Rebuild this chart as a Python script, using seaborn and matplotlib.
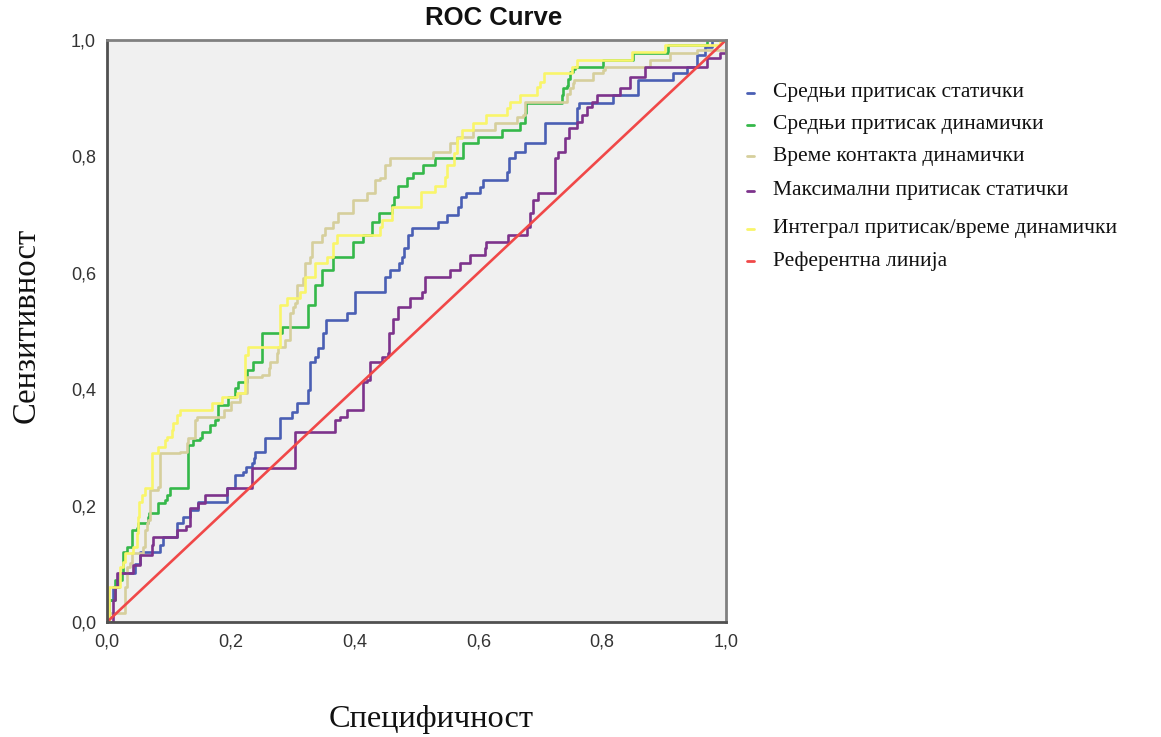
import matplotlib
matplotlib.use("Agg")
import matplotlib.pyplot as plt
from matplotlib.lines import Line2D
import seaborn as sns
import pandas as pd

# ROC coordinates (1 - specificity, sensitivity) at each step of the curve
mean_static_x = [0.0, 0.0, 0.010, 0.020, 0.045, 0.053, 0.086, 0.091, 0.113, 0.123, 0.134, 0.147,
                 0.194, 0.207, 0.220, 0.224, 0.234, 0.237, 0.239, 0.255, 0.279, 0.299, 0.307,
                 0.325, 0.328, 0.336, 0.341, 0.349, 0.354, 0.388, 0.401, 0.449, 0.457, 0.471,
                 0.476, 0.480, 0.487, 0.493, 0.535, 0.549, 0.567, 0.572, 0.580, 0.603, 0.607,
                 0.646, 0.650, 0.659, 0.675, 0.708, 0.759, 0.763, 0.817, 0.858, 0.914, 0.937,
                 0.953, 0.966, 0.977, 1.0]
mean_static_y = [0.0, 0.038, 0.060, 0.085, 0.100, 0.120, 0.132, 0.146, 0.170, 0.180, 0.192, 0.206,
                 0.230, 0.253, 0.258, 0.266, 0.273, 0.282, 0.292, 0.316, 0.350, 0.361, 0.376,
                 0.399, 0.447, 0.455, 0.471, 0.497, 0.519, 0.531, 0.567, 0.593, 0.605, 0.617,
                 0.627, 0.643, 0.665, 0.677, 0.687, 0.699, 0.713, 0.730, 0.737, 0.747, 0.760,
                 0.773, 0.797, 0.808, 0.823, 0.857, 0.883, 0.892, 0.905, 0.931, 0.943, 0.954,
                 0.975, 0.988, 1.0, 1.0]

mean_dynamic_x = [0.0, 0.003, 0.013, 0.024, 0.026, 0.032, 0.040, 0.041, 0.048, 0.050, 0.066, 0.068,
                  0.083, 0.094, 0.097, 0.102, 0.131, 0.139, 0.150, 0.153, 0.166, 0.175, 0.180,
                  0.196, 0.207, 0.212, 0.226, 0.236, 0.250, 0.283, 0.325, 0.336, 0.347, 0.365,
                  0.397, 0.414, 0.428, 0.440, 0.460, 0.463, 0.470, 0.485, 0.494, 0.511, 0.530,
                  0.575, 0.599, 0.638, 0.667, 0.675, 0.677, 0.735, 0.737, 0.743, 0.745, 0.748,
                  0.753, 0.756, 0.802, 0.850, 0.906, 0.970, 1.0]
mean_dynamic_y = [0.0, 0.038, 0.072, 0.084, 0.120, 0.129, 0.141, 0.158, 0.161, 0.170, 0.180, 0.187,
                  0.204, 0.210, 0.218, 0.230, 0.304, 0.313, 0.316, 0.327, 0.338, 0.347, 0.373,
                  0.387, 0.402, 0.412, 0.433, 0.447, 0.497, 0.507, 0.545, 0.579, 0.605, 0.627,
                  0.653, 0.665, 0.687, 0.703, 0.717, 0.730, 0.749, 0.763, 0.772, 0.785, 0.797,
                  0.823, 0.834, 0.845, 0.857, 0.874, 0.892, 0.905, 0.918, 0.921, 0.933, 0.945,
                  0.950, 0.954, 0.966, 0.978, 0.991, 1.0, 1.0]

contact_time_x = [0.0, 0.0, 0.029, 0.032, 0.037, 0.040, 0.058, 0.061, 0.064, 0.067, 0.070, 0.083,
                  0.086, 0.118, 0.129, 0.131, 0.142, 0.145, 0.189, 0.201, 0.215, 0.226, 0.250,
                  0.261, 0.263, 0.274, 0.276, 0.288, 0.296, 0.301, 0.304, 0.307, 0.317, 0.320,
                  0.328, 0.331, 0.347, 0.352, 0.365, 0.373, 0.397, 0.420, 0.433, 0.441, 0.449,
                  0.457, 0.527, 0.554, 0.565, 0.592, 0.627, 0.662, 0.672, 0.675, 0.743, 0.748,
                  0.753, 0.755, 0.785, 0.802, 0.805, 0.877, 0.909, 0.953, 1.0]
contact_time_y = [0.0, 0.015, 0.060, 0.095, 0.101, 0.118, 0.129, 0.158, 0.170, 0.175, 0.227, 0.232,
                  0.290, 0.292, 0.307, 0.316, 0.347, 0.352, 0.364, 0.378, 0.393, 0.421, 0.424,
                  0.436, 0.447, 0.462, 0.473, 0.485, 0.531, 0.541, 0.548, 0.579, 0.591, 0.617,
                  0.627, 0.653, 0.665, 0.677, 0.687, 0.703, 0.725, 0.737, 0.759, 0.763, 0.785,
                  0.797, 0.808, 0.823, 0.834, 0.845, 0.857, 0.868, 0.871, 0.893, 0.908, 0.917,
                  0.926, 0.931, 0.943, 0.948, 0.954, 0.966, 0.978, 0.983, 1.0]

max_static_x = [0.0, 0.010, 0.013, 0.016, 0.042, 0.053, 0.072, 0.074, 0.113, 0.128, 0.134, 0.147,
                0.158, 0.194, 0.234, 0.304, 0.368, 0.376, 0.388, 0.414, 0.420, 0.425, 0.444,
                0.454, 0.456, 0.462, 0.470, 0.490, 0.509, 0.514, 0.554, 0.570, 0.586, 0.611,
                0.613, 0.648, 0.678, 0.683, 0.689, 0.696, 0.724, 0.729, 0.740, 0.746, 0.759,
                0.767, 0.775, 0.783, 0.792, 0.829, 0.845, 0.869, 0.969, 0.990, 1.0]
max_static_y = [0.0, 0.038, 0.060, 0.084, 0.098, 0.115, 0.132, 0.146, 0.158, 0.165, 0.196, 0.204,
                0.218, 0.230, 0.265, 0.327, 0.347, 0.352, 0.364, 0.412, 0.416, 0.447, 0.455,
                0.462, 0.497, 0.521, 0.541, 0.557, 0.567, 0.593, 0.605, 0.617, 0.631, 0.643,
                0.653, 0.665, 0.679, 0.703, 0.725, 0.737, 0.797, 0.808, 0.832, 0.849, 0.859,
                0.871, 0.885, 0.893, 0.905, 0.917, 0.936, 0.954, 0.969, 0.978, 1.0]

integral_x = [0.0, 0.003, 0.021, 0.026, 0.029, 0.042, 0.049, 0.050, 0.052, 0.056, 0.061, 0.072,
              0.083, 0.094, 0.097, 0.105, 0.107, 0.113, 0.118, 0.169, 0.186, 0.210, 0.223,
              0.228, 0.279, 0.290, 0.312, 0.320, 0.336, 0.355, 0.365, 0.371, 0.441, 0.444,
              0.460, 0.508, 0.530, 0.546, 0.550, 0.560, 0.565, 0.573, 0.592, 0.613, 0.646,
              0.651, 0.667, 0.695, 0.700, 0.706, 0.751, 0.759, 0.848, 0.901, 0.990, 1.0]
integral_y = [0.0, 0.060, 0.095, 0.103, 0.118, 0.129, 0.153, 0.180, 0.206, 0.218, 0.230, 0.290,
              0.301, 0.313, 0.318, 0.330, 0.342, 0.356, 0.364, 0.376, 0.387, 0.393, 0.459,
              0.473, 0.545, 0.557, 0.567, 0.593, 0.617, 0.627, 0.651, 0.665, 0.679, 0.691,
              0.713, 0.739, 0.749, 0.765, 0.785, 0.805, 0.832, 0.845, 0.857, 0.871, 0.883,
              0.893, 0.905, 0.919, 0.928, 0.943, 0.954, 0.966, 0.979, 0.991, 1.0, 1.0]

reference_x = [0.0, 1.0]
reference_y = [0.0, 1.0]

series_names = [
    "Средњи притисак статички",
    "Средњи притисак динамички",
    "Време контакта динамички",
    "Максимални притисак статички",
    "Интеграл притисак/време динамички",
    "Референтна линија",
]
series_colors = ["#4a5fb4", "#35b84a", "#d6cf9c", "#7d338c", "#f9f56a", "#f04848"]

tick_values = [0.0, 0.2, 0.4, 0.6, 0.8, 1.0]
tick_labels = ["0,0", "0,2", "0,4", "0,6", "0,8", "1,0"]

curves = [
    (mean_static_x, mean_static_y),
    (mean_dynamic_x, mean_dynamic_y),
    (contact_time_x, contact_time_y),
    (max_static_x, max_static_y),
    (integral_x, integral_y),
]

sns.set_style("white")
plt.rcParams["font.family"] = ["Liberation Sans", "DejaVu Sans"]

W, H = 1161, 737
fig = plt.figure(figsize=(W / 100, H / 100), dpi=100)
fig.patch.set_facecolor("white")
ax = fig.add_axes([107 / W, 1 - 622 / H, 619 / W, 582 / H])
ax.set_facecolor("#f0f0f0")

# ROC step curves
for (xs, ys), color in zip(curves, series_colors[:5]):
    df = pd.DataFrame({"fpr": xs, "tpr": ys})
    sns.lineplot(data=df, x="fpr", y="tpr", ax=ax, sort=False, estimator=None,
                 color=color, linewidth=1.9, drawstyle="steps-post", legend=False)

# diagonal reference line
ref = pd.DataFrame({"fpr": reference_x, "tpr": reference_y})
sns.lineplot(data=ref, x="fpr", y="tpr", ax=ax, sort=False, estimator=None,
             color=series_colors[5], linewidth=1.9, legend=False)

ax.set_xlim(0, 1)
ax.set_ylim(0, 1)
ax.set_xticks(tick_values)
ax.set_yticks(tick_values)
ax.set_xticklabels(tick_labels)
ax.set_yticklabels(tick_labels)
ax.tick_params(axis="both", direction="out", length=5, width=1.3, color="#505050",
               labelsize=13, labelcolor="#333333", pad=3)
ax.set_xlabel("")
ax.set_ylabel("")
for side in ["left", "bottom"]:
    ax.spines[side].set_color("#505050")
    ax.spines[side].set_linewidth(2.0)
for side in ["top", "right"]:
    ax.spines[side].set_color("#808080")
    ax.spines[side].set_linewidth(2.0)

serif = ["Liberation Serif", "DejaVu Serif"]
fig.text(494 / W, 1 - 18 / H, "ROC Curve", ha="center", va="center",
         fontsize=18.5, fontweight="bold", color="#111111")
fig.text(26 / W, 1 - 325 / H, "Сензитивност", rotation=90, ha="center", va="center",
         fontsize=23.5, family=serif, color="#111111")
fig.text(431 / W, 1 - 720 / H, "Специфичност", ha="center", va="center",
         fontsize=23.3, family=serif, color="#111111")

# legend rows
legend_rows = [93, 125, 156, 191, 229, 261]
for name, color, row in zip(series_names, series_colors, legend_rows):
    fig.add_artist(Line2D([747 / W, 754 / W], [1 - row / H, 1 - row / H],
                          color=color, linewidth=2.0, transform=fig.transFigure))
    fig.text(773 / W, 1 - row / H, name, ha="left", va="center",
             fontsize=15.5, family=serif, color="#111111")

fig.savefig("out.png", dpi=100, facecolor="white")
